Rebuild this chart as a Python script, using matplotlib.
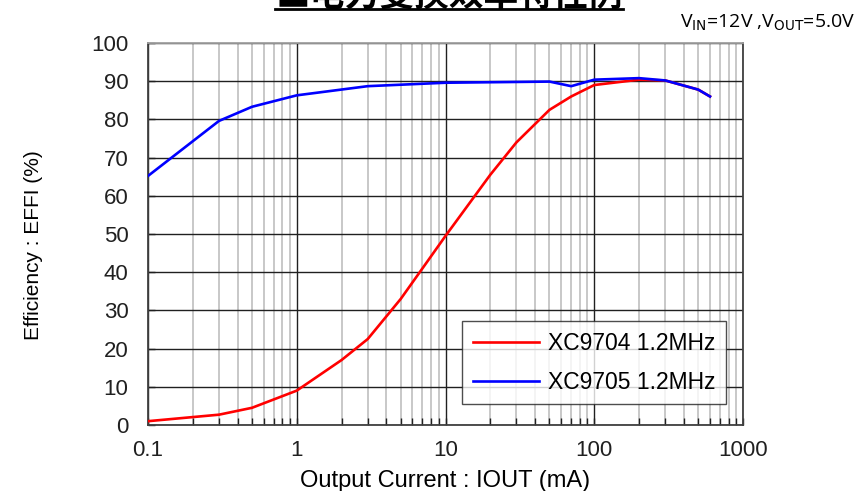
import numpy as np
import matplotlib.pyplot as plt
from matplotlib.lines import Line2D
from matplotlib.ticker import LogLocator, FixedLocator, NullFormatter

plt.rcParams['font.family'] = ['Liberation Sans', 'DejaVu Sans']

# 读图得到的数据
iout_9704 = [0.1, 0.3, 0.5, 1, 2, 3, 5, 7, 10, 20, 30, 50, 70, 100, 200, 300, 500, 600]
eff_9704 = [1.0, 2.7, 4.5, 9.0, 17.0, 22.5, 33.0, 41.0, 49.5, 65.5, 74.0, 82.5, 86.0, 89.0, 90.4, 90.2, 87.8, 86.0]

iout_9705 = [0.1, 0.3, 0.5, 1, 3, 10, 50, 70, 100, 200, 300, 500, 600]
eff_9705 = [65.2, 79.6, 83.3, 86.3, 88.7, 89.6, 89.9, 88.7, 90.4, 90.8, 90.2, 87.8, 86.0]

x_ticks = [0.1, 1, 10, 100, 1000]
x_ticklabels = ['0.1', '1', '10', '100', '1000']
y_ticks = list(range(0, 101, 10))

W, H = 858, 491
fig = plt.figure(figsize=(W / 100, H / 100), dpi=100)
ax = fig.add_axes([148 / W, (H - 425) / H, 595 / W, 382 / H])

ax.plot(iout_9704, eff_9704, color='#ff0000', lw=1.9, label='XC9704 1.2MHz', zorder=3)
ax.plot(iout_9705, eff_9705, color='#0000ff', lw=1.9, label='XC9705 1.2MHz', zorder=3)

ax.set_xscale('log')
ax.set_xlim(0.1, 1000)
ax.set_ylim(0, 100)
ax.xaxis.set_major_locator(FixedLocator(x_ticks))
ax.set_xticklabels(x_ticklabels)
ax.xaxis.set_minor_locator(LogLocator(base=10, subs=np.arange(2, 10)))
ax.xaxis.set_minor_formatter(NullFormatter())
ax.set_yticks(y_ticks)

ax.grid(which='minor', axis='x', color='#c8c8c8', lw=1.4)
ax.grid(which='major', axis='x', color='#202020', lw=1.0)
ax.grid(which='major', axis='y', color='#202020', lw=1.0)
ax.set_axisbelow(True)

ax.tick_params(which='both', direction='in', labelsize=16, colors='#202020')
ax.tick_params(which='major', length=5, width=1)
ax.tick_params(which='minor', length=5, width=1, top=False)
ax.tick_params(axis='x', pad=11)
ax.tick_params(axis='y', pad=14)
for s in ax.spines.values():
    s.set_color('#404040')
    s.set_linewidth(1.3)
ax.spines['top'].set_color('#a0a0a0')

ax.set_xlabel('Output Current : IOUT (mA)', fontsize=17)
ax.xaxis.set_label_coords(0.5, (425 - 481) / 382)
ax.xaxis.label.set_va('center')
ax.set_ylabel('Efficiency : EFFI (%)', fontsize=15)
ax.yaxis.set_label_coords((33 - 148) / 595, (425 - 245) / 382)
ax.yaxis.label.set_va('center')

leg = ax.legend(loc='lower right', bbox_to_anchor=(726 / W, (H - 404) / H),
                bbox_transform=fig.transFigure, fontsize=16.5, frameon=True,
                fancybox=False, handlelength=2.9, borderpad=0.45, labelspacing=0.7,
                handletextpad=0.4, borderaxespad=0)
leg.get_frame().set_edgecolor('#202020')
leg.get_frame().set_linewidth(1.0)

# 顶部被截断的标题
fig.text(449 / W, 1 - 6 / H, '■电力变换效率特性例', fontsize=25, fontweight='bold',
         ha='center', va='baseline', family=['Noto Sans CJK SC', 'DejaVu Sans'])
fig.add_artist(Line2D([275 / W, 623 / W], [1 - 9 / H, 1 - 9 / H], color='black', lw=2))

fig.text(855 / W, 1 - 23 / H, r'V$_{\mathrm{IN}}$=12V ,V$_{\mathrm{OUT}}$=5.0V',
         fontsize=14, ha='right', va='center', family='Open Sans')

fig.savefig('out.png', dpi=100)
